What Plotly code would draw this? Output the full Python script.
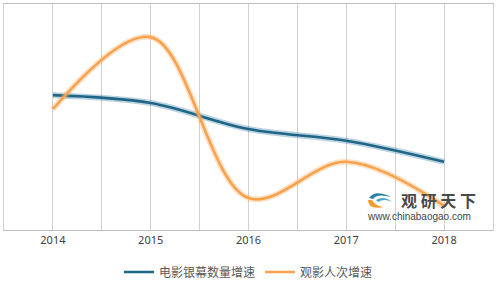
import plotly.graph_objects as go

years = [2014, 2015, 2016, 2017, 2018]
tick_vals = [2013.5, 2014, 2014.5, 2015, 2015.5, 2016, 2016.5, 2017, 2017.5, 2018, 2018.5]
tick_text = ["", "2014", "", "2015", "", "2016", "", "2017", "", "2018", ""]
screen_growth = [35.8, 33.7, 26.8, 23.7, 18.1]
audience_growth = [32.1, 51.2, 8.5, 18.1, 6.4]
name_screen = "电影银幕数量增速"
name_audience = "观影人次增速"

BLUE = "#1F6586"
BLUE_L = "rgba(60,130,165,0.35)"
ORANGE = "#F9A24E"
ORANGE_L = "rgba(250,170,90,0.35)"

fig = go.Figure()
for ys, dark, light, nm in [(screen_growth, BLUE, BLUE_L, name_screen),
                            (audience_growth, ORANGE, ORANGE_L, name_audience)]:
    fig.add_trace(go.Scatter(x=years, y=ys, mode="lines", showlegend=False,
                             line=dict(color=light, width=6, shape="spline", smoothing=1.0),
                             hoverinfo="skip"))
    fig.add_trace(go.Scatter(x=years, y=ys, mode="lines", name=nm,
                             line=dict(color=dark, width=2.6, shape="spline", smoothing=1.0)))

def px(x):
    return (x - 4) / 489
def py(y):
    return (230 - y) / 226

shapes = []
# logo approximation
shapes.append(dict(type="path", xref="paper", yref="paper",
                   path=f"M {px(368)} {py(200)} Q {px(368)} {py(210)} {px(384)} {py(207)} Q {px(375)} {py(206)} {px(372)} {py(200)} Z",
                   fillcolor="#F39A2E", line=dict(width=0)))
shapes.append(dict(type="path", xref="paper", yref="paper",
                   path=f"M {px(369)} {py(198)} Q {px(375)} {py(189)} {px(391)} {py(197)} Q {px(377)} {py(193)} {px(373)} {py(199)} Z",
                   fillcolor="#2C7FA6", line=dict(width=0)))
shapes.append(dict(type="path", xref="paper", yref="paper",
                   path=f"M {px(376)} {py(200)} Q {px(384)} {py(195)} {px(392)} {py(202)} Q {px(384)} {py(198)} {px(378)} {py(202)} Z",
                   fillcolor="#4BA3C8", line=dict(width=0)))

fig.update_layout(
    width=500, height=300,
    margin=dict(l=4, r=7, t=4, b=70),
    paper_bgcolor="white", plot_bgcolor="white",
    font=dict(family="Noto Sans CJK SC, Noto Sans, sans-serif", color="#404040", size=11),
    xaxis=dict(range=[2013.5, 2018.5], tickvals=tick_vals, ticktext=tick_text,
               showgrid=True, gridcolor="#D0D0D0", gridwidth=1,
               showline=True, linecolor="#BFBFBF", linewidth=1, mirror=True,
               ticks="", zeroline=False, tickfont=dict(family="Noto Sans", size=11, color="#404040")),
    yaxis=dict(range=[0, 60], showgrid=False, showticklabels=False, zeroline=False,
               showline=True, linecolor="#D0D0D0", linewidth=1, mirror=True, ticks=""),
    legend=dict(orientation="h", x=0.5, xanchor="center", y=-0.186, yanchor="middle",
                font=dict(size=12, color="#595959"), itemwidth=30, tracegroupgap=0),
    shapes=shapes,
    annotations=[
        dict(text="<b>观 研 天 下</b>", xref="paper", yref="paper", x=px(399), y=py(200),
             xanchor="left", yanchor="middle", showarrow=False,
             font=dict(size=16, color="#4A4A4A", family="Noto Sans CJK SC")),
        dict(text="www.chinabaogao.com", xref="paper", yref="paper", x=px(365), y=py(216.5),
             xanchor="left", yanchor="middle", showarrow=False,
             font=dict(size=10, color="#444444", family="Liberation Sans")),
    ],
)

fig.write_html("out.html")
